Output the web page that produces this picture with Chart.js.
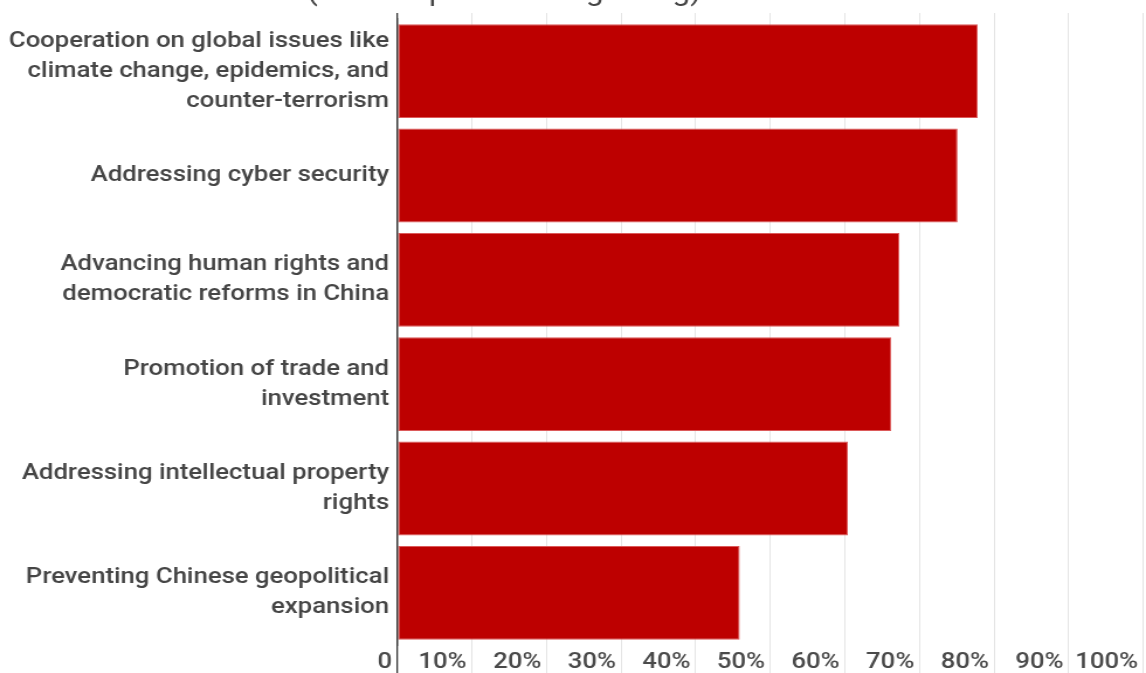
<!DOCTYPE html>
<html>
<head>
<meta charset="utf-8">
<script src="https://cdn.jsdelivr.net/npm/chart.js@4/dist/chart.umd.min.js"></script>
<style>
  html, body { margin: 0; padding: 0; background: #ffffff; overflow: hidden; }
  #wrap { width: 1146px; height: 673px; overflow: hidden; }
  /* the chart is drawn on a narrower canvas and widened horizontally */
  #chart { display: block; transform: scaleX(1.16939); transform-origin: 0 0; }
</style>
</head>
<body>
<div id="wrap"><canvas id="chart" width="980" height="673"></canvas></div>
<script>
// Survey items (category axis)
const categories = [
  ["Cooperation on global issues like", "climate change, epidemics, and", "counter-terrorism"],
  "Addressing cyber security",
  ["Advancing human rights and", "democratic reforms in China"],
  ["Promotion of trade and", "investment"],
  ["Addressing intellectual property", "rights"],
  ["Preventing Chinese geopolitical", "expansion"]
];

// Share of respondents agreeing, in percent
const agreeing = [77.8, 75.1, 67.3, 66.2, 60.4, 45.9];

// Value axis ticks
const tickValues = [0, 10, 20, 30, 40, 50, 60, 70, 80, 90, 100];
const tickLabels = ["0", "10%", "20%", "30%", "40%", "50%", "60%", "70%", "80%", "90%", "100%"];

const titleText = "China (% of respondents agreeing)";

const GRID = '#e4e4e4';
const ZERO = '#3a3a3a';

const gridColor = ctx => (ctx.tick && ctx.tick.value === 0 ? ZERO : GRID);
const gridWidth = ctx => (ctx.tick && ctx.tick.value === 0 ? 1.3 : 1);

// Title line sitting at the very top edge
const topTitle = {
  id: 'topTitle',
  afterDraw(chart) {
    const c = chart.ctx;
    c.save();
    c.font = '400 27px Roboto';
    c.fillStyle = '#444444';
    c.textAlign = 'left';
    c.textBaseline = 'alphabetic';
    const lead = c.measureText('China ').width;
    c.fillText(titleText, 262.5 - lead, 0);
    c.restore();
  }
};

Chart.defaults.font.family = 'Roboto, "Open Sans", sans-serif';

new Chart(document.getElementById('chart'), {
  type: 'bar',
  data: {
    labels: categories,
    datasets: [{
      data: agreeing,
      backgroundColor: '#bd0000',
      borderColor: '#dc5a5a',
      borderWidth: 1,
      borderSkipped: false,
      categoryPercentage: 0.9,
      barPercentage: 1.0
    }]
  },
  options: {
    indexAxis: 'y',
    responsive: false,
    animation: false,
    events: [],
    layout: { padding: { top: 13, right: 2.3, left: 0, bottom: 0 } },
    plugins: {
      legend: { display: false },
      tooltip: { enabled: false },
      title: { display: false }
    },
    scales: {
      x: {
        type: 'linear',
        position: 'bottom',
        min: 0,
        max: 100,
        afterFit: s => { s.height = 28; s.paddingLeft = 0; s.paddingRight = 0; },
        afterBuildTicks: s => { s.ticks = tickValues.map(v => ({ value: v })); },
        grid: {
          color: gridColor,
          tickColor: gridColor,
          lineWidth: gridWidth,
          tickWidth: gridWidth,
          drawTicks: true,
          tickLength: 28
        },
        border: { display: false },
        ticks: {
          autoSkip: false,
          maxRotation: 0,
          align: 'end',
          padding: -24,
          color: '#4a4a4a',
          font: { size: 22, weight: '500' },
          callback: (v) => tickLabels[tickValues.indexOf(v)] + '\u2009'
        }
      },
      xTop: {
        type: 'linear',
        position: 'top',
        min: 0,
        max: 100,
        afterFit: s => { s.height = 6; s.paddingLeft = 0; s.paddingRight = 0; },
        afterBuildTicks: s => { s.ticks = tickValues.map(v => ({ value: v })); },
        grid: {
          drawOnChartArea: false,
          color: gridColor,
          tickColor: gridColor,
          lineWidth: gridWidth,
          tickWidth: gridWidth,
          tickLength: 6
        },
        border: { display: false },
        ticks: { display: false }
      },
      y: {
        type: 'category',
        position: 'left',
        afterFit: s => { s.width = 339.75; s.paddingTop = 0; s.paddingBottom = 0; },
        grid: { display: false, drawTicks: false },
        border: { display: true, color: ZERO, width: 1.3, z: 1 },
        ticks: {
          padding: 7,
          color: '#454545',
          autoSkip: false,
          font: { size: 22, weight: '500', lineHeight: 1.364 }
        }
      }
    }
  },
  plugins: [topTitle]
});
</script>
</body>
</html>
